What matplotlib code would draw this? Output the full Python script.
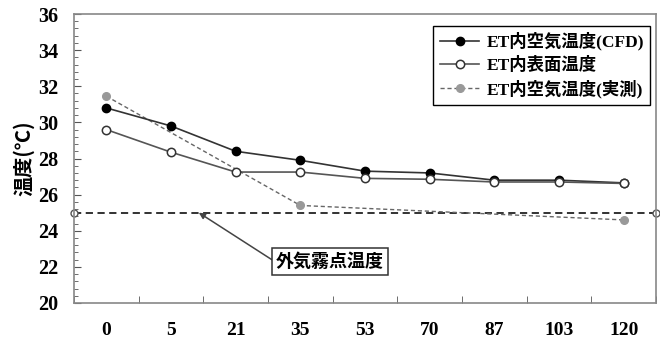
import numpy as np
import matplotlib.pyplot as plt
from matplotlib.ticker import MultipleLocator, FixedLocator

# x categories (elapsed time labels)
categories = ["0", "5", "21", "35", "53", "70", "87", "103", "120"]

air_cfd = [30.8, 29.8, 28.4, 27.9, 27.3, 27.2, 26.8, 26.8, 26.65]
surface = [29.6, 28.35, 27.25, 27.25, 26.9, 26.85, 26.7, 26.7, 26.62]
air_measured = [31.45, None, None, 25.4, None, None, None, None, 24.6]
dew_point = 25.0

jp = ["Liberation Serif", "Noto Sans CJK JP", "DejaVu Sans"]
plt.rcParams["font.family"] = jp
plt.rcParams["font.weight"] = "bold"

fig = plt.figure(figsize=(6.6, 3.46), dpi=100)
ax = fig.add_axes([74 / 660, 1 - 303 / 346, (656 - 74) / 660, (303 - 14) / 346])

x = np.arange(len(categories))
ax.plot(x, air_cfd, color="#333333", lw=1.2, marker="o", ms=6,
        mfc="black", mec="black", label="ET内空気温度(CFD)", zorder=4)
ax.plot(x, surface, color="#555555", lw=1.2, marker="o", ms=6,
        mfc="white", mec="#333333", mew=1.1, label="ET内表面温度", zorder=5)

mx = [i for i, v in enumerate(air_measured) if v is not None]
my = [v for v in air_measured if v is not None]
ax.plot(mx, my, color="#666666", lw=1.0, ls=(0, (3, 2)), marker="o", ms=5.5,
        mfc="#999999", mec="#999999", label="ET内空気温度(実測)", zorder=3)

ax.plot([-0.5, 8.5], [dew_point, dew_point], color="#222222", lw=1.3,
        ls=(0, (4, 2.5)), marker="o", ms=5, mfc="white", mec="#555555",
        clip_on=False, zorder=2)

ax.annotate("外気霧点温度", xy=(1.43, dew_point), xytext=(3.46, 22.3),
            ha="center", va="center", fontsize=13,
            family=["Noto Sans CJK JP", "DejaVu Sans"], fontweight="bold",
            bbox=dict(boxstyle="square,pad=0.2", fc="white", ec="#333333", lw=1.1),
            arrowprops=dict(arrowstyle="-|>", color="#444444", lw=1.1,
                            mutation_scale=9, shrinkA=0, shrinkB=0,
                            relpos=(0, 0.45)))

ax.set_xlim(-0.5, 8.5)
ax.set_ylim(20, 36)
ax.yaxis.set_major_locator(MultipleLocator(2))
ax.yaxis.set_minor_locator(MultipleLocator(0.4))
ax.xaxis.set_major_locator(FixedLocator(x))
ax.xaxis.set_minor_locator(FixedLocator(np.arange(-0.5, 8.6, 1)))
ax.set_xticks(x)
ax.set_xticklabels(categories)
ax.tick_params(axis="x", which="major", length=0, pad=14, labelsize=14)
ax.tick_params(axis="x", which="minor", direction="in", length=5, color="#555555")
ax.tick_params(axis="y", which="major", direction="in", length=5, color="#555555",
               labelsize=14.5, pad=11)
ax.tick_params(axis="y", which="minor", direction="in", length=3, color="#555555")
for lab in ax.get_xticklabels() + ax.get_yticklabels():
    lab.set_fontweight("bold")
for sp in ax.spines.values():
    sp.set_color("#888888")
    sp.set_linewidth(1.2)

fig.text(24 / 660, 1 - 158 / 346, "温度(℃)", rotation=90, ha="center", va="center",
         fontsize=14.5, fontweight="bold", family=["Noto Sans CJK JP", "DejaVu Sans"])

leg = ax.legend(loc="upper right", bbox_to_anchor=(650 / 660, 1 - 26 / 346),
                bbox_transform=fig.transFigure, borderaxespad=0, fancybox=False,
                edgecolor="black", framealpha=1, handlelength=2.3,
                handletextpad=0.4, labelspacing=0.35, borderpad=0.35,
                prop=dict(family=jp, weight="bold", size=12.5))
leg.get_frame().set_linewidth(1.0)

fig.savefig("out.png", dpi=100)
